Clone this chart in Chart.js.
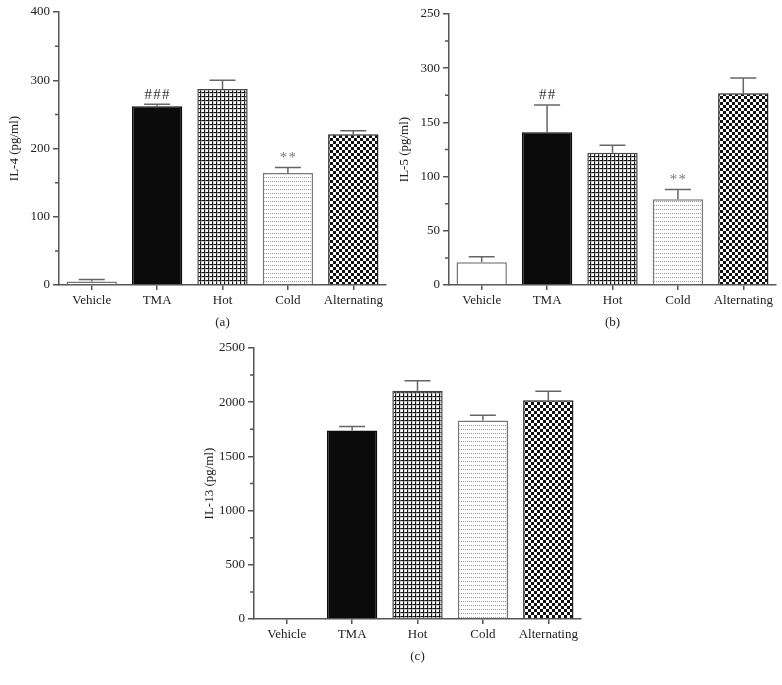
<!DOCTYPE html>
<html>
<head>
<meta charset="utf-8">
<script src="https://cdn.jsdelivr.net/npm/chart.js@4.4.0/dist/chart.umd.min.js"></script>
<style>
	body { margin: 0; background: #fff; width: 782px; height: 685px; position: relative; overflow: hidden; }
	canvas { position: absolute; }
</style>
</head>
<body>
<canvas id="chartA" width="392" height="330" style="left:0;top:0"></canvas>
<canvas id="chartB" width="392" height="330" style="left:390px;top:0"></canvas>
<canvas id="chartC" width="392" height="328" style="left:195px;top:336px"></canvas>
<script>
(function () {
	'use strict';

	var categories = ['Vehicle', 'TMA', 'Hot', 'Cold', 'Alternating'];

	var il4Means = [5, 262, 287, 164, 221];
	var il4Sem = [3, 3, 13, 8, 5];
	var il4Ticks = ['0', '100', '200', '300', '400'];
	var il4Marks = ['', '###', '', '**', ''];

	var il5Means = [21, 141, 122, 79, 177];
	var il5Sem = [5, 25, 7, 9, 14];
	var il5Ticks = ['0', '50', '100', '150', '300', '250'];
	var il5Marks = ['', '##', '', '**', ''];

	var il13Means = [0, 1738, 2105, 1831, 2019];
	var il13Sem = [0, 37, 93, 49, 83];
	var il13Ticks = ['0', '500', '1000', '1500', '2000', '2500'];
	var il13Marks = ['', '', '', '', ''];

	var FONT = "'Liberation Serif', 'DejaVu Serif', serif";
	var AXIS = '#555';

	Chart.defaults.font.family = FONT;
	Chart.defaults.font.size = 13;
	Chart.defaults.color = '#222';

	function tile(size, draw) {
		var c = document.createElement('canvas');
		c.width = size;
		c.height = size;
		var g = c.getContext('2d');
		g.fillStyle = '#fff';
		g.fillRect(0, 0, size, size);
		draw(g);
		return g.createPattern(c, 'repeat');
	}

	var gridFill = tile(4, function (g) {
		g.fillStyle = '#111';
		g.fillRect(0, 0, 4, 1);
		g.fillRect(0, 0, 1, 4);
		g.fillStyle = '#aaa';
		g.fillRect(0, 1, 4, 0.5);
		g.fillRect(1, 0, 0.5, 4);
	});

	var dotFill = tile(4, function (g) {
		g.fillStyle = '#999';
		g.fillRect(0, 1, 1, 1);
		g.fillRect(2, 1, 1, 1);
	});

	var checkFill = tile(6, function (g) {
		g.fillStyle = '#111';
		g.fillRect(0, 0, 3, 3);
		g.fillRect(3, 3, 3, 3);
	});

	var fills = ['#fff', '#0b0b0b', gridFill, dotFill, checkFill];
	var borders = ['#777', '#0b0b0b', '#444', '#777', '#222'];

	var extrasPlugin = {
		id: 'extras',
		afterDatasetsDraw: function (chart, args, opts) {
			var ctx = chart.ctx;
			var y = chart.scales.y;
			var meta = chart.getDatasetMeta(0);
			ctx.save();
			meta.data.forEach(function (bar, i) {
				var sem = opts.sem[i];
				var top = y.getPixelForValue(opts.means[i] + sem);
				if (sem > 0) {
					ctx.strokeStyle = '#666';
					ctx.lineWidth = 1.5;
					ctx.beginPath();
					ctx.moveTo(bar.x, bar.y);
					ctx.lineTo(bar.x, top);
					ctx.moveTo(bar.x - 13, top);
					ctx.lineTo(bar.x + 13, top);
					ctx.stroke();
				}
				if (opts.marks[i]) {
					ctx.fillStyle = opts.marks[i].charAt(0) === '#' ? '#333' : '#777';
					ctx.font = '15px ' + FONT;
					ctx.textAlign = 'center';
					ctx.textBaseline = 'bottom';
					ctx.fillText(opts.marks[i].split('').join('\u200A'), bar.x, top - 2);
				}
			});
			// minor ticks on the y axis
			var step = opts.step;
			ctx.strokeStyle = AXIS;
			ctx.lineWidth = 1.5;
			ctx.beginPath();
			for (var v = step / 2; v < y.max; v += step) {
				var py = y.getPixelForValue(v);
				ctx.moveTo(chart.chartArea.left, py);
				ctx.lineTo(chart.chartArea.left - 4, py);
			}
			ctx.stroke();
			ctx.restore();
		}
	};

	function makePanel(id, means, sem, tickLabels, marks, max, step, yTitle, caption, top) {
		var el = document.getElementById(id);
		return new Chart(el, {
			type: 'bar',
			data: {
				labels: categories,
				datasets: [{
					data: means,
					backgroundColor: fills,
					borderColor: borders,
					borderWidth: 1.5,
					barPercentage: 0.77,
					categoryPercentage: 1
				}]
			},
			options: {
				responsive: false,
				animation: false,
				events: [],
				layout: { padding: { left: 0, right: 6, top: top, bottom: 0 } },
				plugins: {
					legend: { display: false },
					tooltip: { enabled: false },
					extras: { means: means, sem: sem, marks: marks, step: step }
				},
				scales: {
					x: {
						grid: { display: true, drawOnChartArea: false, offset: false, tickLength: 5, color: AXIS, lineWidth: 1.5 },
						border: { color: AXIS, width: 1.5 },
						ticks: { padding: 3, color: '#222', maxRotation: 0, autoSkip: false },
						title: { display: true, text: caption, padding: { top: 6, bottom: 0 }, color: '#222' },
						afterFit: function (s) { s.height = 45; }
					},
					y: {
						min: 0,
						max: max,
						ticks: {
							stepSize: step,
							padding: 3,
							color: '#222',
							callback: function (value, index) { return tickLabels[index]; }
						},
						grid: { drawOnChartArea: false, tickLength: 6, color: AXIS, lineWidth: 1.5 },
						border: { color: AXIS, width: 1.5 },
						title: { display: true, text: yTitle, padding: { top: 7, bottom: 0 }, color: '#222' },
						afterFit: function (s) { s.width = 59; }
					}
				}
			},
			plugins: [extrasPlugin]
		});
	}

	makePanel('chartA', il4Means, il4Sem, il4Ticks, il4Marks, 400, 100, 'IL-4 (pg/ml)', '(a)', 12);
	makePanel('chartB', il5Means, il5Sem, il5Ticks, il5Marks, 250, 50, 'IL-5 (pg/ml)', '(b)', 14);
	makePanel('chartC', il13Means, il13Sem, il13Ticks, il13Marks, 2500, 500, 'IL-13 (pg/ml)', '(c)', 12);
})();
</script>
</body>
</html>
